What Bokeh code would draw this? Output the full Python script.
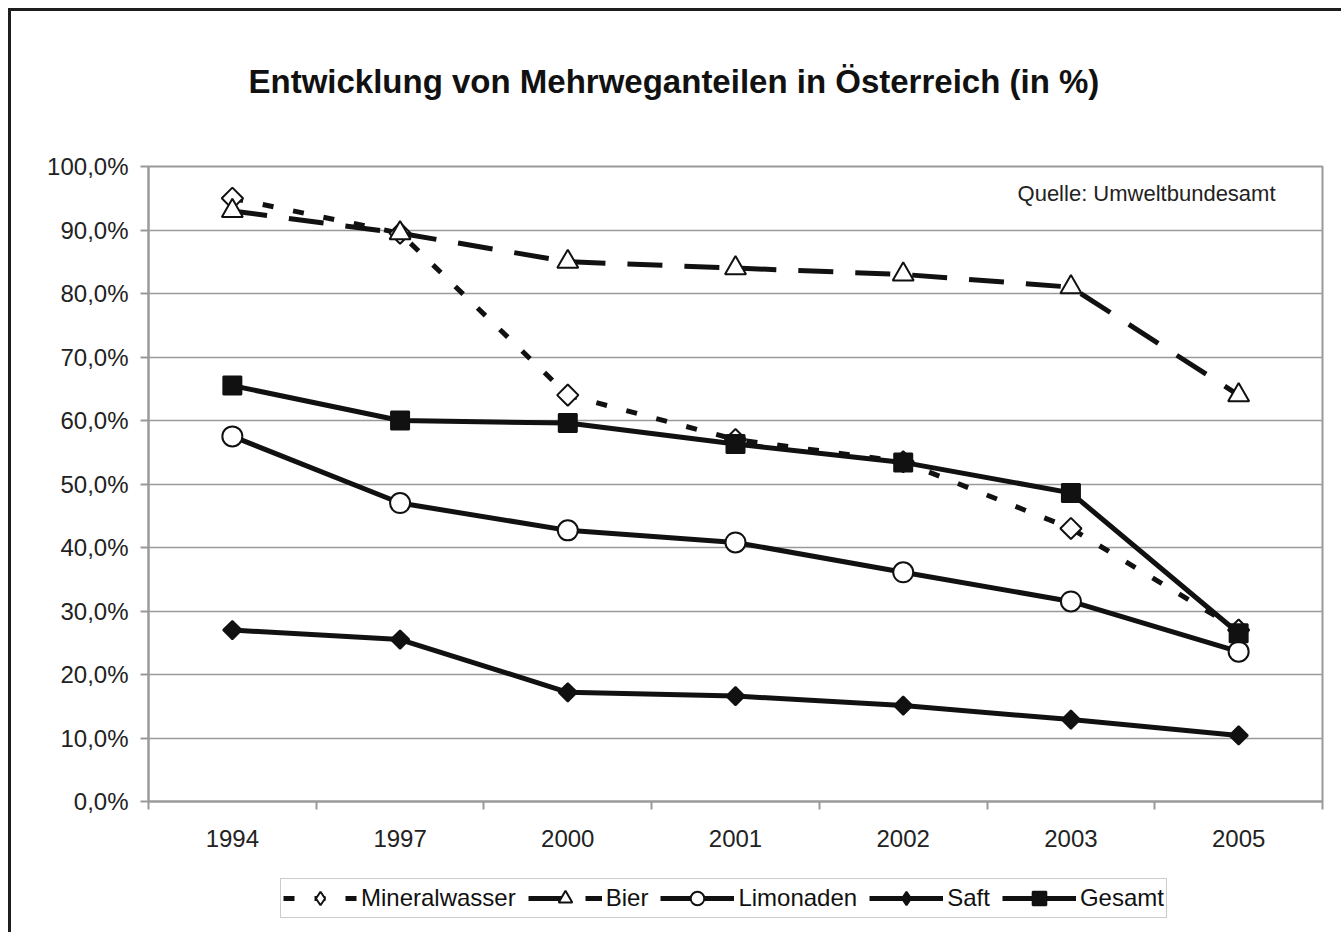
import math
from bokeh.plotting import figure
from bokeh.layouts import column
from bokeh.models import (ColumnDataSource, Range1d, FixedTicker, Legend, LegendItem, Label, Title)
from bokeh.embed import file_html
from bokeh.resources import INLINE

# ---- data ----
years = ["1994", "1997", "2000", "2001", "2002", "2003", "2005"]
mineralwasser = [95.0, 89.5, 64.0, 57.0, 53.5, 43.0, 27.0]
bier = [93.0, 89.5, 85.0, 84.0, 83.0, 81.0, 64.0]
limonaden = [57.5, 47.0, 42.7, 40.8, 36.1, 31.5, 23.6]
saft = [27.0, 25.5, 17.2, 16.6, 15.1, 12.9, 10.4]
gesamt = [65.5, 60.0, 59.6, 56.3, 53.4, 48.6, 26.5]
y_ticks = [0, 10, 20, 30, 40, 50, 60, 70, 80, 90, 100]
y_tick_labels = ["0,0%", "10,0%", "20,0%", "30,0%", "40,0%", "50,0%",
                 "60,0%", "70,0%", "80,0%", "90,0%", "100,0%"]
title_text = "Entwicklung von Mehrweganteilen in Österreich (in %)"
source_text = "Quelle: Umweltbundesamt"

FONT = "Liberation Sans"
INK = "#111111"
GRAY = "#9a9a9a"

n = len(years)
xpos = [i + 0.5 for i in range(n)]

# ---------------- main chart ----------------
p = figure(frame_width=1174, frame_height=635,
           x_range=Range1d(0, n), y_range=Range1d(0, 100),
           output_backend="svg", toolbar_location=None,
           min_border_left=137, min_border_right=19,
           min_border_top=155, min_border_bottom=56)
p.background_fill_color = "white"
p.border_fill_color = "white"
p.outline_line_color = GRAY
p.outline_line_width = 2

# grid
p.xgrid.visible = False
p.ygrid.ticker = FixedTicker(ticks=y_ticks)
p.ygrid.grid_line_color = GRAY
p.ygrid.grid_line_width = 1.5

# y axis
yax = p.yaxis[0]
yax.ticker = FixedTicker(ticks=y_ticks)
yax.major_label_overrides = {t: l for t, l in zip(y_ticks, y_tick_labels)}
yax.axis_line_color = GRAY
yax.axis_line_width = 2
yax.major_tick_line_color = GRAY
yax.major_tick_line_width = 2
yax.major_tick_out = 8
yax.major_tick_in = 0
yax.minor_tick_line_color = None
yax.major_label_standoff = 12
yax.major_label_text_font = FONT
yax.major_label_text_font_size = "24px"
yax.major_label_text_color = "#222222"

# x axis (labels at category centres, tick marks at category boundaries)
xax = p.xaxis[0]
xax.ticker = FixedTicker(ticks=xpos, minor_ticks=list(range(n + 1)))
xax.major_label_overrides = {x: y for x, y in zip(xpos, years)}
xax.axis_line_color = GRAY
xax.axis_line_width = 2
xax.major_tick_line_color = None
xax.major_tick_out = 0
xax.major_tick_in = 0
xax.minor_tick_line_color = GRAY
xax.minor_tick_line_width = 2
xax.minor_tick_out = 8
xax.minor_tick_in = 0
xax.major_label_standoff = 20
xax.major_label_text_font = FONT
xax.major_label_text_font_size = "24px"
xax.major_label_text_color = "#222222"

# ---------------- legend strip ----------------
# (its own small figure; the series drawn here fall outside its 0..1 ranges,
#  so only the legend swatches are visible)
leg = figure(width=1330, height=75, min_border=0,
             x_range=Range1d(0, 1), y_range=Range1d(0, 1),
             x_axis_type=None, y_axis_type=None,
             output_backend="svg", toolbar_location=None)
leg.background_fill_color = "white"
leg.border_fill_color = "white"
leg.outline_line_color = None
leg.grid.visible = False

items = []

def series(label, values, dash, lw, marker, size, fill, angle,
           legend_marker, legend_size):
    src = ColumnDataSource(dict(x=xpos, y=values))
    p.line("x", "y", source=src, line_color=INK, line_width=lw,
           line_dash=dash, line_cap="butt", line_join="round")
    p.scatter("x", "y", source=src, marker=marker, size=size, angle=angle,
              fill_color=fill, line_color=INK, line_width=2)
    ll = leg.line("x", "y", source=src, line_color=INK, line_width=lw,
                  line_dash=dash, line_cap="butt")
    lm = leg.scatter("x", "y", source=src, marker=legend_marker, size=legend_size,
                     fill_color=fill, line_color=INK, line_width=2)
    items.append(LegendItem(label=label, renderers=[ll, lm]))

series("Mineralwasser", mineralwasser, "11 20", 5, "square", 15, "white", math.pi / 4,
       "diamond", 17)
series("Bier", bier, "35 22", 5, "triangle", 21, "white", 0.0, "triangle", 17)
series("Limonaden", limonaden, "solid", 5, "circle", 20, "white", 0.0, "circle", 15)
series("Saft", saft, "solid", 5, "square", 13, INK, math.pi / 4, "diamond", 17)
series("Gesamt", gesamt, "solid", 5, "square", 18, INK, 0.0, "square", 14)

legend = Legend(items=items, orientation="horizontal", location=(132, 14),
                label_text_font=FONT, label_text_font_size="24px",
                label_text_color="#111111",
                glyph_width=74, glyph_height=34, label_standoff=4,
                spacing=12, padding=2, margin=0,
                border_line_color=GRAY, border_line_width=1.5,
                background_fill_color="white", background_fill_alpha=1.0)
leg.add_layout(legend, "center")

# title: spacer panel next to the frame, then the real title above it
p.add_layout(Title(text=" ", text_font_size="1px", standoff=64), "above")
p.add_layout(Title(text=title_text, align="left", offset=100, standoff=0,
                   vertical_align="bottom", text_font=FONT, text_font_size="33px",
                   text_font_style="bold", text_color="#111111"), "above")

p.add_layout(Label(x=6.72, y=95.75, text=source_text, text_align="right",
                   text_baseline="middle", text_font=FONT, text_font_size="22px",
                   text_color="#222222"))

layout = column(p, leg, spacing=0)
layout.styles = {"margin-left": "8px", "margin-top": "8px",
                 "border-left": "3px solid #1e1e1e", "border-top": "3px solid #1e1e1e"}

open("out.html", "w").write(file_html(layout, INLINE))
